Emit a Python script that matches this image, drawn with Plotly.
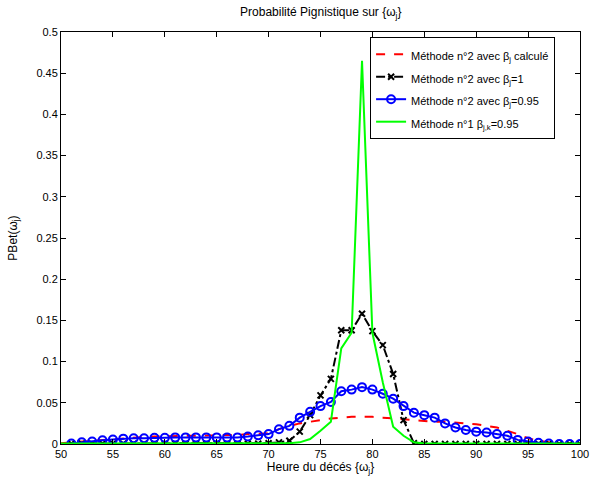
import plotly.graph_objects as go

x = list(range(50, 101))

red = [0.001, 0.002, 0.003, 0.004, 0.005, 0.006, 0.007, 0.008, 0.0085, 0.009,
       0.0095, 0.010, 0.010, 0.010, 0.010, 0.0105, 0.011, 0.011, 0.012, 0.012,
       0.013, 0.018, 0.022, 0.025, 0.027, 0.029, 0.031, 0.032, 0.033, 0.033,
       0.033, 0.032, 0.031, 0.030, 0.029, 0.028, 0.027, 0.027, 0.026, 0.025,
       0.024, 0.022, 0.020, 0.016, 0.012, 0.007, 0.004, 0.002, 0.0005, 0.0, 0.0]

black = [None, 0.0005, 0.0005, 0.0005, 0.0005, 0.0005, 0.0005, 0.0005, 0.0005, 0.0005,
         0.0005, 0.0005, 0.0005, 0.0005, 0.0005, 0.0005, 0.0005, 0.0005, 0.0005, 0.0005,
         0.001, 0.002, 0.004, 0.015, 0.035, 0.059, 0.079, 0.138, 0.138, 0.158,
         0.137, 0.120, 0.085, 0.029, 0.001, 0.0, 0.0, 0.0, 0.0, 0.0,
         0.0, 0.0, 0.0, 0.0, 0.0, 0.0, 0.0, 0.0, 0.0, 0.0, 0.0]

blue = [None, 0.0005, 0.002, 0.003, 0.0045, 0.0055, 0.0065, 0.007, 0.007, 0.0075,
        0.0075, 0.008, 0.008, 0.008, 0.008, 0.008, 0.008, 0.008, 0.009, 0.0105,
        0.012, 0.018, 0.022, 0.032, 0.039, 0.046, 0.051, 0.064, 0.066, 0.069,
        0.066, 0.061, 0.055, 0.046, 0.038, 0.035, 0.032, 0.025, 0.020, 0.017,
        0.015, 0.014, 0.012, 0.010, 0.005, 0.003, 0.0015, 0.0005, 0.0, 0.0, 0.0]

green = [0.0005] * 22 + [0.001, 0.002, 0.006, 0.016, 0.027, 0.116, 0.135, 0.465,
                          0.135, 0.075, 0.021, 0.010, 0.002] + [0.0005] * 16

xticks = list(range(50, 101, 5))
yticks = [0, 0.05, 0.1, 0.15, 0.2, 0.25, 0.3, 0.35, 0.4, 0.45, 0.5]
yticklabels = ["0", "0.05", "0.1", "0.15", "0.2", "0.25", "0.3", "0.35", "0.4", "0.45", "0.5"]

names = ["Méthode n°2 avec β<sub>j</sub> calculé",
         "Méthode n°2 avec β<sub>j</sub>=1",
         "Méthode n°2 avec β<sub>j</sub>=0.95",
         "Méthode n°1 β<sub>j,k</sub>=0.95"]

FONT = "Liberation Sans, Arial, sans-serif"


def lbl(n):
    return "<span style='font-size:11px'>" + n + "</span>"


fig = go.Figure()
fig.add_trace(go.Scatter(x=x, y=red, mode="lines", name=lbl(names[0]),
                         line=dict(color="#ff0000", width=2, dash="dash")))
fig.add_trace(go.Scatter(x=x, y=black, mode="lines+markers", name=lbl(names[1]),
                         line=dict(color="#000000", width=2, dash="dashdot"),
                         marker=dict(symbol="x-thin-open", size=6,
                                     line=dict(color="#000000", width=2))))
fig.add_trace(go.Scatter(x=x, y=blue, mode="lines+markers", name=lbl(names[2]),
                         line=dict(color="#0000ff", width=2),
                         marker=dict(symbol="circle-open", size=8, color="#0000ff",
                                     line=dict(color="#0000ff", width=2))))
fig.add_trace(go.Scatter(x=x, y=green, mode="lines", name=lbl(names[3]),
                         line=dict(color="#00ff00", width=2)))

axis_common = dict(showgrid=False, zeroline=False, showline=True, linecolor="#000000",
                   linewidth=1, mirror="ticks", ticks="inside", ticklen=5,
                   tickcolor="#000000", automargin=False,
                   tickfont=dict(family=FONT, size=11, color="#000000"))

fig.update_layout(
    width=594, height=479,
    margin=dict(l=61, r=14, t=32, b=35, autoexpand=False),
    paper_bgcolor="white", plot_bgcolor="white",
    font=dict(family=FONT, size=11, color="#000000"),
    title=dict(text="Probabilité Pignistique sur {ω<sub>j</sub>}", x=0.54, xanchor="center",
               y=0.975, yanchor="middle", font=dict(family=FONT, size=12, color="#000000")),
    xaxis=dict(range=[50, 100], tickvals=xticks, ticktext=[str(t) for t in xticks],
               title=dict(text="Heure du décés {ω<sub>j</sub>}", standoff=2,
                          font=dict(family=FONT, size=12)), **axis_common),
    yaxis=dict(range=[0, 0.5], tickvals=yticks, ticktext=yticklabels,
               title=dict(text="PBet(ω<sub>j</sub>)", standoff=16,
                          font=dict(family=FONT, size=12)), **axis_common),
    legend=dict(x=0.952, xanchor="right", y=0.988, yanchor="top",
                bgcolor="white", bordercolor="#000000", borderwidth=1,
                font=dict(family=FONT, size=15, color="#000000"),
                tracegroupgap=0),
    showlegend=True,
)

fig.write_html("out.html", config={"displayModeBar": False},
               post_script="document.body.style.margin='0';")
